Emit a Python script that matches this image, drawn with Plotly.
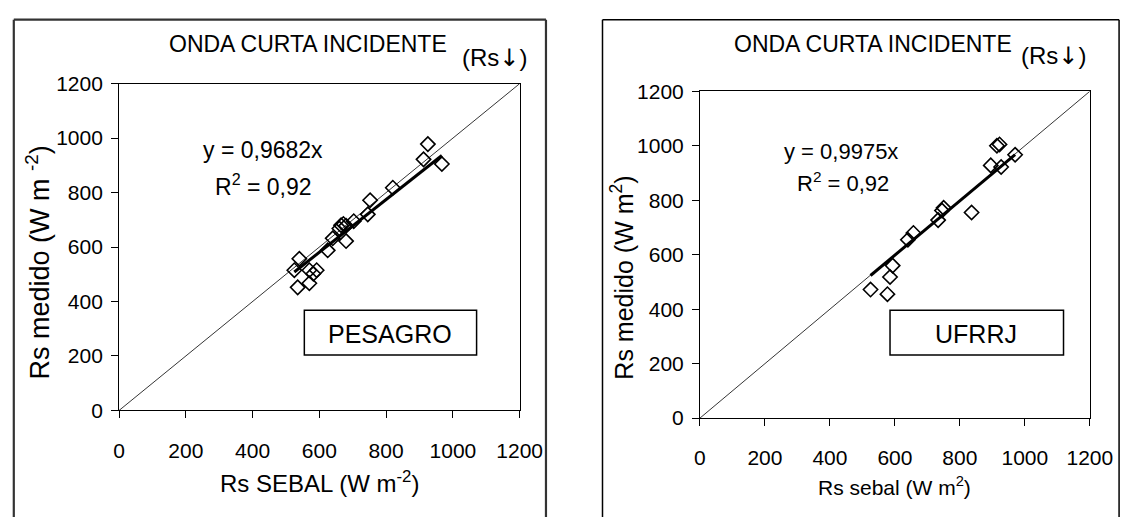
import plotly.graph_objects as go

# ---- data ----
pes_x = [925, 912, 967, 820, 752, 745, 703, 665, 672, 680, 660, 680, 640, 625, 540, 525, 570, 592, 582, 535, 570]
pes_y = [978, 922, 905, 818, 772, 720, 695, 680, 685, 678, 668, 622, 632, 588, 557, 515, 515, 515, 502, 452, 467]
pes_slope = 0.9682

ufr_x = [914, 922, 970, 895, 927, 836, 750, 745, 733, 657, 640, 593, 585, 525, 577]
ufr_y = [1000, 1005, 967, 928, 922, 755, 772, 762, 727, 680, 655, 560, 518, 472, 455]
ufr_slope = 0.9975

one_to_one = [0, 1200]
tick_vals = [0, 200, 400, 600, 800, 1000, 1200]
tick_text = ["0", "200", "400", "600", "800", "1000", "1200"]

W, H = 1145, 517
FONT = "Liberation Sans, Arial, DejaVu Sans, sans-serif"
RS_ARROW = "(Rs<span style=\"font-family:'DejaVu Sans';fill:black;color:black\">\u2193\ufe0e</span>)"

def px(x):
    return x / W

def py(y):
    return 1 - y / H

fig = go.Figure()

def add_panel(xs, ys, slope, xa, ya):
    fig.add_trace(go.Scatter(x=one_to_one, y=one_to_one, mode="lines",
                             line=dict(color="black", width=0.8),
                             xaxis=xa, yaxis=ya, showlegend=False, hoverinfo="skip"))
    fig.add_trace(go.Scatter(x=xs, y=ys, mode="markers",
                             marker=dict(symbol="diamond-open", size=11,
                                         color="black", line=dict(color="black", width=1.6)),
                             xaxis=xa, yaxis=ya, showlegend=False))
    lo, hi = min(xs), max(xs)
    fig.add_trace(go.Scatter(x=[lo, hi], y=[slope * lo, slope * hi], mode="lines",
                             line=dict(color="black", width=3),
                             xaxis=xa, yaxis=ya, showlegend=False, hoverinfo="skip"))

add_panel(pes_x, pes_y, pes_slope, "x", "y")
add_panel(ufr_x, ufr_y, ufr_slope, "x2", "y2")

axis_common = dict(range=[0, 1200], tickvals=tick_vals, ticktext=tick_text,
                   showgrid=False, zeroline=False, showline=True, mirror=True,
                   linecolor="black", linewidth=1, ticks="outside", ticklen=7,
                   tickcolor="black", tickwidth=1,
                   tickfont=dict(family=FONT, size=21, color="black"))

fig.update_layout(
    width=W, height=H, margin=dict(l=0, r=0, t=0, b=0),
    paper_bgcolor="white", plot_bgcolor="white",
    font=dict(family=FONT, color="black"),
    xaxis=dict(domain=[px(116), px(527)], anchor="y", ticklabelstandoff=14, **axis_common),
    yaxis=dict(domain=[py(417), py(75)], anchor="x", ticklabelstandoff=4, **axis_common),
    xaxis2=dict(domain=[px(712), px(1112)], anchor="y2", ticklabelstandoff=14, **axis_common),
    yaxis2=dict(domain=[py(425), py(83)], anchor="x2", ticklabelstandoff=4, **axis_common),
)

shapes = []
# outer frames (bottom edges are off the image)
for x0, x1, col, w in [(8, 554, "#333333", 2.2), (612, 1142, "black", 1.5)]:
    shapes.append(dict(type="line", xref="paper", yref="paper", x0=px(x0), x1=px(x0),
                       y0=py(8), y1=-0.05, line=dict(color=col, width=w)))
    shapes.append(dict(type="line", xref="paper", yref="paper", x0=px(x1), x1=px(x1),
                       y0=py(8), y1=-0.05, line=dict(color=col, width=w)))
    shapes.append(dict(type="line", xref="paper", yref="paper", x0=px(x0), x1=px(x1),
                       y0=py(8), y1=py(8), line=dict(color=col, width=w)))
# station label boxes
shapes.append(dict(type="rect", xref="x", yref="y", x0=555, x1=1071, y0=204, y1=368,
                   line=dict(color="black", width=1.5), fillcolor="white"))
shapes.append(dict(type="rect", xref="x2", yref="y2", x0=585, x1=1119, y0=232, y1=396,
                   line=dict(color="black", width=1.5), fillcolor="white"))
fig.update_layout(shapes=shapes)

def ann(text, x, y, size, xanchor="center", textangle=0):
    return dict(text=text, x=px(x), y=py(y), xref="paper", yref="paper",
                showarrow=False, xanchor=xanchor, yanchor="middle", textangle=textangle,
                font=dict(family=FONT, size=size, color="black"))

annotations = [
    ann("ONDA CURTA INCIDENTE", 310, 33, 23),
    ann(RS_ARROW, 501, 48, 24),
    ann("ONDA CURTA INCIDENTE", 890, 34, 23),
    ann(RS_ARROW, 1075, 46, 24),
    ann("y = 0,9682x", 264, 144, 23),
    ann("R<sup>2</sup> = 0,92", 264, 181, 23),
    ann("y = 0,9975x", 857, 146, 22),
    ann("R<sup>2</sup> = 0,92", 859, 178, 22),
    ann("PESAGRO", 394, 337, 25),
    ann("UFRRJ", 995, 337, 25),
    ann("Rs SEBAL (W m<sup>-2</sup>)", 322, 492, 24),
    ann("Rs sebal (W m<sup>2</sup>)", 912, 496, 21),
    ann("Rs medido (W m <sup>-2</sup>)", 33, 262, 27, textangle=-90),
    ann("Rs medido (W m<sup>2</sup>)", 632, 278, 25, textangle=-90),
]
fig.update_layout(annotations=annotations)

fig.write_html("out.html", config={"displayModeBar": False},
               post_script="document.body.style.margin='0';document.body.style.overflow='hidden';")
